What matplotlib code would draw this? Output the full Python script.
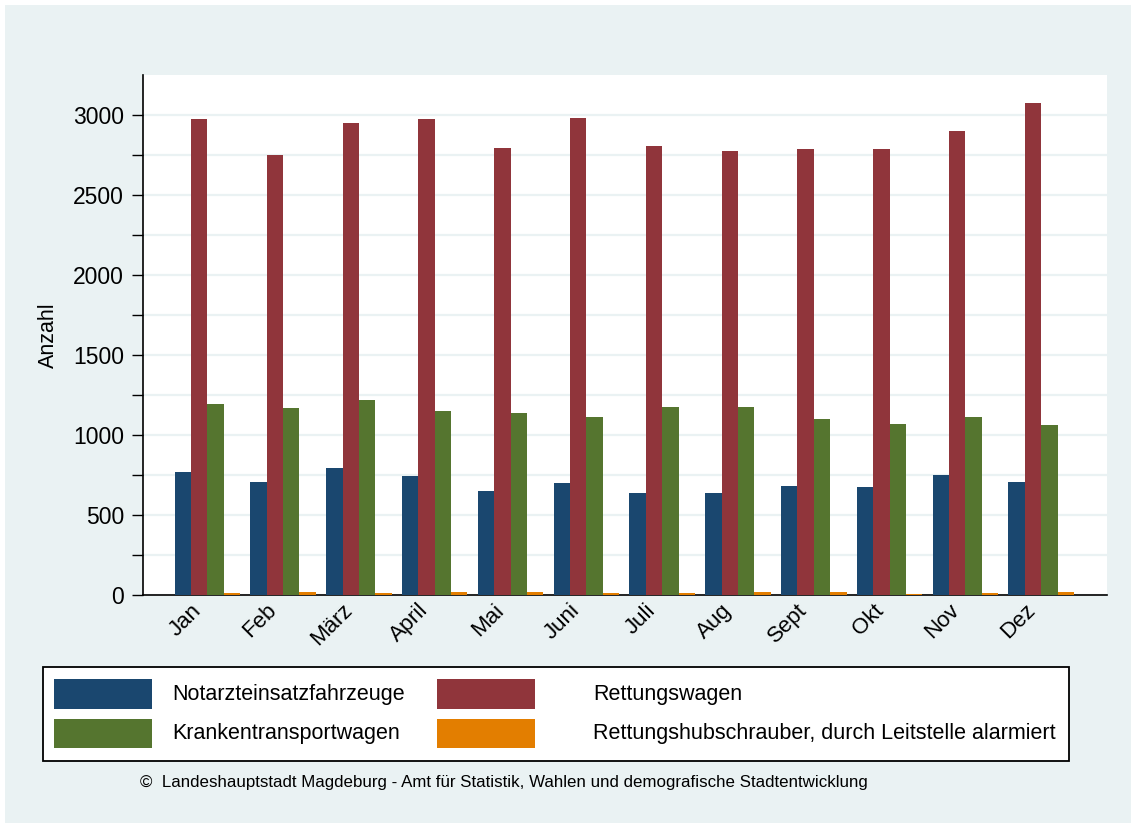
import matplotlib
matplotlib.use("Agg")
import matplotlib.pyplot as plt
import matplotlib.transforms as mtransforms
from matplotlib.patches import Rectangle
import numpy as np

plt.rcParams["font.family"] = ["Liberation Sans", "DejaVu Sans"]

months = ["Jan", "Feb", "März", "April", "Mai", "Juni",
          "Juli", "Aug", "Sept", "Okt", "Nov", "Dez"]
notarzt = [771, 704, 792, 744, 652, 702, 635, 635, 683, 675, 752, 708]
rtw = [2975, 2750, 2950, 2975, 2794, 2981, 2806, 2775, 2788, 2788, 2900, 3075]
ktw = [1192, 1169, 1217, 1152, 1140, 1110, 1175, 1177, 1100, 1069, 1115, 1063]
rth = [12, 21, 10, 19, 16, 12, 12, 16, 21, 5, 12, 21]

series = [
    ("Notarzteinsatzfahrzeuge", notarzt, "#1a476f"),
    ("Rettungswagen", rtw, "#90353b"),
    ("Krankentransportwagen", ktw, "#55752f"),
    ("Rettungshubschrauber, durch Leitstelle alarmiert", rth, "#e37e00"),
]

BG = "#eaf2f3"
W, H = 1131, 823


def fx(px):
    return px / W


def fy(py):
    return 1 - py / H


fig = plt.figure(figsize=(W / 100, H / 100), dpi=100, facecolor="white")
fig.patches.append(Rectangle((fx(5), 0), 1 - fx(5), 1 - 5 / H, transform=fig.transFigure,
                             facecolor=BG, edgecolor="none", zorder=-10))

ax = fig.add_axes([fx(143), fy(595), (1107 - 143) / W, (595 - 75) / H])
ax.set_facecolor("white")

x = np.arange(len(months))
bw = 0.216
for i, (name, vals, col) in enumerate(series):
    ax.bar(x + (i - 1.5) * bw, vals, width=bw, color=col, edgecolor="none", zorder=3)

ax.set_xlim(-0.848, 11.868)
ax.set_ylim(0, 3250)
ax.set_yticks(np.arange(0, 3001, 500))
ax.set_yticks(np.arange(250, 3000, 500), minor=True)
ax.yaxis.grid(True, which="both", color=BG, linewidth=1.6, zorder=0)
ax.set_axisbelow(True)
ax.tick_params(axis="y", which="both", length=8, width=1.0, labelsize=16.5, pad=5.5)
ax.tick_params(axis="x", length=0, labelsize=16, pad=3.5)
for s in ["top", "right"]:
    ax.spines[s].set_visible(False)
for s in ["left", "bottom"]:
    ax.spines[s].set_linewidth(1.2)

ax.set_xticks(x)
ax.set_xticklabels(months, rotation=45, ha="right", va="top")
offset = mtransforms.ScaledTranslation(-0.02, 0, fig.dpi_scale_trans)
for lbl in ax.get_xticklabels():
    lbl.set_transform(lbl.get_transform() + offset)

fig.text(fx(48), fy(335), "Anzahl", rotation=90, fontsize=15.5, ha="center", va="center")

# legend box drawn by hand (Stata-style grid)
fig.patches.append(Rectangle((fx(42.7), fy(760.7)), (1069.3 - 42.7) / W, (760.7 - 666.7) / H,
                             transform=fig.transFigure, facecolor="white",
                             edgecolor="black", linewidth=1.3, zorder=1))
leg_items = [(0, 0, 0), (2, 1, 0), (1, 0, 1), (3, 1, 1)]   # series index, row, col
patch_x = [54.3, 437.3]
text_x = [172.7, 593.3]
row_top = [679.3, 719.0]
for si, r, c in leg_items:
    name, _, col = series[si]
    fig.patches.append(Rectangle((fx(patch_x[c]), fy(row_top[r] + 29.4)), 97.5 / W, 29.4 / H,
                                 transform=fig.transFigure, facecolor=col,
                                 edgecolor="none", zorder=2))
    fig.text(fx(text_x[c]), fy(row_top[r] + 15), name, fontsize=15.5,
             ha="left", va="center", zorder=3)

fig.text(fx(140), fy(782),
         "©  Landeshauptstadt Magdeburg - Amt für Statistik, Wahlen und demografische Stadtentwicklung",
         fontsize=12.2, ha="left", va="center")

fig.savefig("out.png", dpi=100, facecolor=fig.get_facecolor())
